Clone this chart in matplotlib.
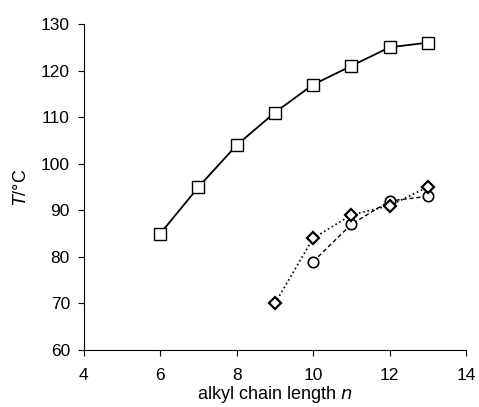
import matplotlib
matplotlib.use("Agg")
import matplotlib.pyplot as plt

plt.rcParams['font.family'] = ['Liberation Sans', 'DejaVu Sans']

n_sq = [6, 7, 8, 9, 10, 11, 12, 13]
T_sq = [85, 95, 104, 111, 117, 121, 125, 126]
n_di = [9, 10, 11, 12, 13]
T_di = [70, 84, 89, 91, 95]
n_ci = [10, 11, 12, 13]
T_ci = [79, 87, 92, 93]

fig = plt.figure(figsize=(4.79, 4.07), dpi=100)
ax = fig.add_axes([0.175, 0.140, 0.798, 0.801])

ax.plot(n_sq, T_sq, '-', color='black', lw=1.3, marker='s', ms=8,
        mfc='white', mec='black', mew=1.0)
ax.plot(n_ci, T_ci, '--', color='black', lw=1.0, marker='o', ms=7.5,
        mfc='white', mec='black', mew=1.2, dashes=(3, 2))
ax.plot(n_di, T_di, ':', color='black', lw=1.2, marker='D', ms=6.5,
        mfc='white', mec='black', mew=1.6)

ax.set_xlim(4, 14)
ax.set_ylim(60, 130)
ax.set_xticks([4, 6, 8, 10, 12, 14])
ax.set_yticks(range(60, 131, 10))
for s in ['top', 'right']:
    ax.spines[s].set_visible(False)
ax.spines['left'].set_linewidth(0.8)
ax.spines['bottom'].set_linewidth(0.8)
ax.tick_params(direction='out', length=4, width=0.8, labelsize=12.5)
ax.tick_params(axis='x', pad=9)
ax.tick_params(axis='y', pad=6)
ax.set_xlabel('alkyl chain length $n$', fontsize=13, labelpad=1)
ax.set_ylabel('$T$/°C', fontsize=13, labelpad=8)

fig.savefig('out.png', dpi=100)
